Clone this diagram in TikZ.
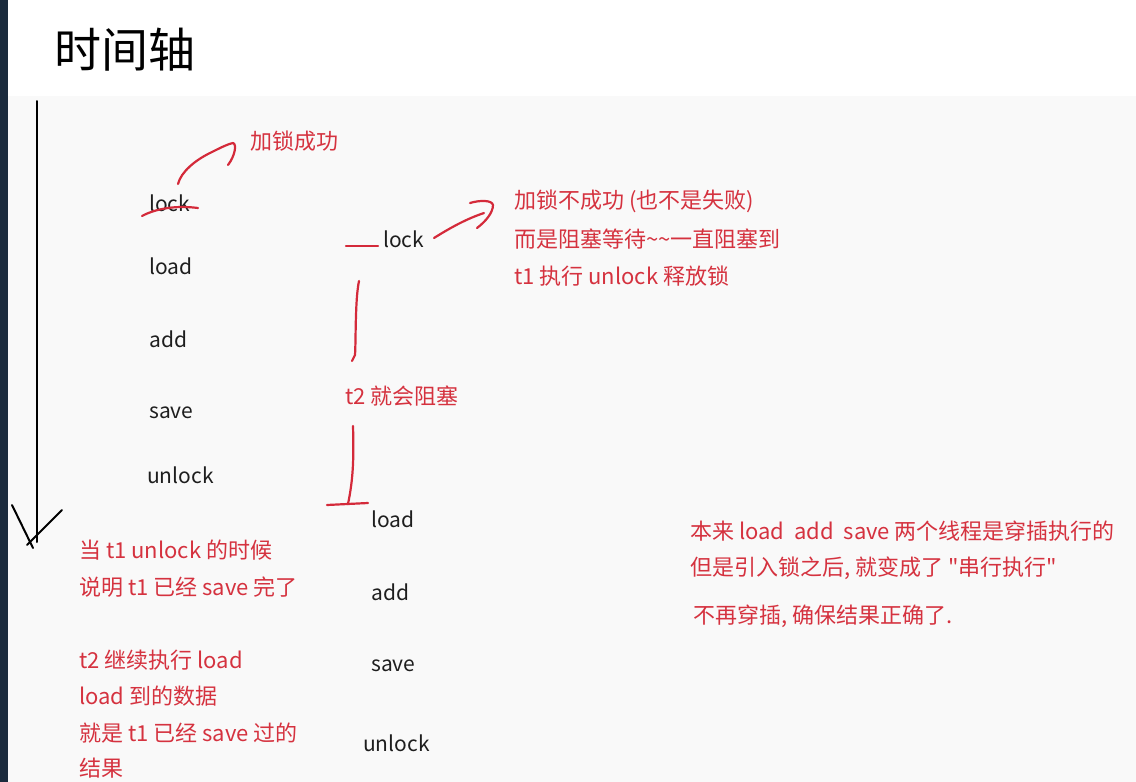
\documentclass[tikz,border=0pt]{standalone}
\usepackage{fontspec}
\setmainfont{Noto Sans CJK SC}[Ligatures=TeXOff]
\definecolor{inkred}{HTML}{D5323F}
\definecolor{penred}{HTML}{D42A3A}
\definecolor{txtblack}{HTML}{1E1E1E}
\definecolor{strip}{HTML}{1B2B3D}
\definecolor{paper}{HTML}{F9F9F9}
\begin{document}
\begin{tikzpicture}[x=1pt,y=-1pt,
  op/.style={anchor=west,inner sep=0pt,text=txtblack,font=\fontsize{21}{24}\selectfont},
  note/.style={anchor=west,inner sep=0pt,text=inkred,font=\fontsize{22}{26}\selectfont},
  pen/.style={draw=penred,line width=2.2pt,line cap=round,line join=round},
  blackpen/.style={draw=black,line width=2pt,line cap=round}]
\useasboundingbox (0,0) rectangle (1136,782);
\fill[white] (0,0) rectangle (1136,782);
\fill[paper] (8,96) rectangle (1136,782);
\fill[strip] (0,0) rectangle (8,782);
% title
\node[anchor=west,inner sep=0pt,font=\fontsize{47}{50}\selectfont] (title) at (54,50) {时间轴};
% time axis
\coordinate (tA) at (37,101);
\coordinate (tB) at (37,542);
\coordinate (hL) at (12,505);
\coordinate (hLe) at (33,548);
\coordinate (hR) at (62,510);
\coordinate (hRe) at (27,545);
\draw[blackpen] (tA) -- (tB);
\draw[blackpen] (hL) -- (hLe);
\draw[blackpen] (hR) -- (hRe);
% t1 ops
\node[op] (lock1) at (149,203) {lock};
\node[op] (load1) at (149,266) {load};
\node[op] (add1) at (149,339) {add};
\node[op] (save1) at (149,413) {save};
\node[op] (unlock1) at (147,475) {unlock};
% strike and arrow for lock1
\coordinate (s1) at (142,216);
\coordinate (s2) at (198,208);
\draw[pen] (s1) .. controls (155,209) and (175,205) .. (s2);
\node[note] (ok) at (250,141) {加锁成功};
\coordinate (a1) at (178,184);
\coordinate (a2) at (233,143);
\coordinate (a3) at (228,165);
\draw[pen] (a1) .. controls (181,172) and (195,160) .. (212,152) .. controls (222,147) and (228,144) .. (a2) .. controls (237,144) and (235,156) .. (a3);
% t2 ops
\node[op] (lock2) at (383,239) {lock};
\node[op] (load2) at (371,519) {load};
\node[op] (add2) at (371,592) {add};
\node[op] (save2) at (371,666) {save};
\node[op] (unlock2) at (363,743) {unlock};
\coordinate (d1) at (346,246);
\coordinate (d2) at (378,246);
\draw[pen] (d1) -- (d2);
% arrow lock2 -> note
\coordinate (b1) at (434,238);
\coordinate (b2) at (484,213);
\coordinate (b3) at (470,203);
\coordinate (b4) at (493,205);
\coordinate (b5) at (477,228);
\draw[pen] (b1) .. controls (450,228) and (466,219) .. (b2);
\draw[pen] (b3) .. controls (480,200) and (492,200) .. (b4) .. controls (493,213) and (485,222) .. (b5);
\node[note] (fail1) at (514,201) {加锁不成功 (也不是失败)};
\node[note] (fail2) at (514,239) {而是阻塞等待\textasciitilde\textasciitilde 一直阻塞到};
\node[note] (fail3) at (514,276) {t1 执行 unlock 释放锁};
% blocking brace
\coordinate (v1) at (359,281);
\coordinate (v2) at (352,361);
\draw[pen] (v1) .. controls (355,300) and (356,340) .. (355,355) -- (v2);
\node[note] (block) at (345,396) {t2 就会阻塞};
\coordinate (w1) at (353,426);
\coordinate (w2) at (348,504);
\draw[pen] (w1) .. controls (354,460) and (353,480) .. (w2);
\coordinate (h1) at (327,505);
\coordinate (h2) at (368,503);
\draw[pen] (h1) -- (h2);
% left explanation
\node[note] (e1) at (79,550) {当 t1 unlock 的时候};
\node[note] (e2) at (79,587) {说明 t1 已经 save 完了};
\node[note] (e3) at (79,660) {t2 继续执行 load};
\node[note] (e4) at (79,696) {load 到的数据};
\node[note] (e5) at (79,733) {就是 t1 已经 save 过的};
\node[note] (e6) at (79,768) {结果};
% right explanation
\node[note] (r1) at (690,531) {本来 load\ \ add\ \ save 两个线程是穿插执行的};
\node[note] (r2) at (690,568) {但是引入锁之后, 就变成了 "串行执行"};
\node[note] (r3) at (693,616) {不再穿插, 确保结果正确了.};
\end{tikzpicture}
\end{document}
